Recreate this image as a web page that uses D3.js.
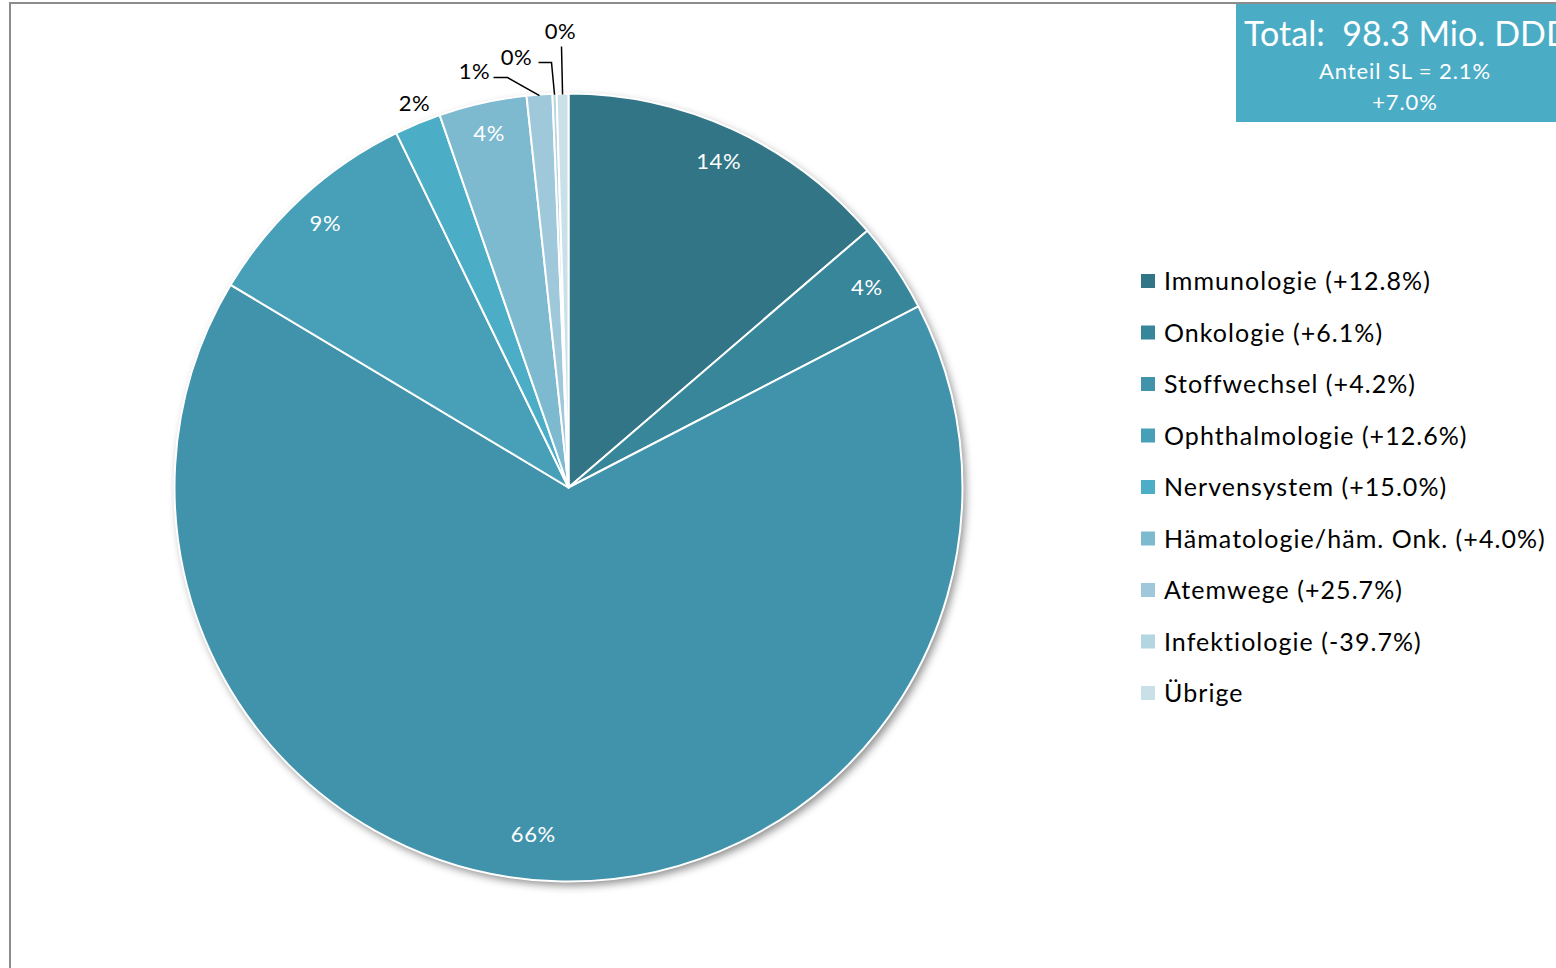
<!DOCTYPE html>
<html><head><meta charset="utf-8">
<script src="https://cdn.jsdelivr.net/npm/d3@7"></script>
<style>html,body{margin:0;padding:0;background:#fff;overflow:hidden}svg{display:block}</style>
</head><body>
<svg id="chart" width="1556" height="968"></svg>
<script>
// ---- data ----
const categories = ["Immunologie","Onkologie","Stoffwechsel","Ophthalmologie","Nervensystem","Hämatologie/häm. Onk.","Atemwege","Infektiologie","Übrige"];
const shares = [13.7, 3.7, 66.2, 9.2, 1.9, 3.6, 1.05, 0.17, 0.48];
const changes = ["+12.8%","+6.1%","+4.2%","+12.6%","+15.0%","+4.0%","+25.7%","-39.7%",null];
const colors = ["#327586","#37869a","#4193ab","#47a0b8","#4badc6","#7db9cf","#9fc9da","#b4d6e2","#cae0e9"];
const totalTitle = "Total:  98.3 Mio. DDD";
const totalLines = ["Anteil SL = 2.1%","+7.0%"];

// ---- layout ----
const W = 1556, H = 968;
const cx = 568.5, cy = 487.5, R = 394;
const font = "Lato, 'Open Sans', sans-serif";
// outside label placement (index -> text offset from centre and leader path)
const outsideLabels = {
  4: {tx: -154, ty: -385, leader: false},
  6: {tx: -94, ty: -417, leader: true, elbowDx: -61, elbowDy: -410, endDx: -75},
  7: {tx: -52, ty: -431, leader: true, elbowDx: -17, elbowDy: -425, endDx: -30},
  8: {tx: -8,  ty: -457, leader: true, elbowDx: -7, elbowDy: -441, endDx: -7}
};
// inside label placement tweaks (index -> radius, angle shift in degrees)
const insideTweaks = {2: {r: 348, dAngle: 4}, 5: {r: 364, dAngle: 0}};

const svg = d3.select("#chart");
const defs = svg.append("defs");
const f = defs.append("filter").attr("id","sh").attr("x","-10%").attr("y","-10%").attr("width","130%").attr("height","130%");
f.append("feDropShadow").attr("dx",3).attr("dy",4).attr("stdDeviation",4).attr("flood-color","#000").attr("flood-opacity",0.45);

// frame (only top & left visible)
svg.append("rect").attr("x",10).attr("y",3).attr("width",W+20).attr("height",H+20)
  .attr("fill","#fff").attr("stroke","#8c8c8c").attr("stroke-width",2);

const pie = d3.pie().sort(null).value(d => d)(shares);
const arc = d3.arc().innerRadius(0).outerRadius(R);
const g = svg.append("g").attr("transform",`translate(${cx},${cy})`);

g.append("circle").attr("r",R).attr("fill","#fff").attr("filter","url(#sh)");
g.selectAll("path.slice").data(pie).join("path").attr("class","slice")
  .attr("d",arc).attr("fill",(d,i)=>colors[i]).attr("stroke","#fff").attr("stroke-width",2).attr("stroke-linejoin","round");

// labels
pie.forEach((d,i)=>{
  const txt = Math.round(shares[i]) + "%";
  if (outsideLabels[i]) {
    const o = outsideLabels[i];
    g.append("text").attr("x",o.tx).attr("y",o.ty).attr("text-anchor","middle").attr("dominant-baseline","central")
      .attr("font-family",font).attr("font-size",22).attr("letter-spacing",0.6).attr("fill","#000").text(txt);
    if (o.leader) {
      const mid = (d.startAngle+d.endAngle)/2;
      const ex = Math.sin(mid)*(R-1), ey = -Math.cos(mid)*(R-1);
      g.append("path").attr("d", `M${o.endDx},${o.elbowDy}L${o.elbowDx},${o.elbowDy}L${ex},${ey}`)
        .attr("fill","none").attr("stroke","#000").attr("stroke-width",1.5);
    }
  } else {
    const t = insideTweaks[i] || {r: 360, dAngle: 0};
    const a = (d.startAngle+d.endAngle)/2 + t.dAngle*Math.PI/180;
    const x = Math.sin(a)*t.r, y = -Math.cos(a)*t.r;
    g.append("text").attr("x",x).attr("y",y).attr("text-anchor","middle").attr("dominant-baseline","central")
      .attr("font-family",font).attr("font-size",22).attr("letter-spacing",0.6).attr("fill","#fff").text(txt);
  }
});

// legend
const lg = svg.append("g").attr("transform","translate(1141,281)");
categories.forEach((c,i)=>{
  const row = lg.append("g").attr("transform",`translate(0,${i*51.5})`);
  row.append("rect").attr("x",0).attr("y",-7).attr("width",14).attr("height",14).attr("fill",colors[i]);
  row.append("text").attr("x",23).attr("y",-1).attr("dominant-baseline","central")
    .attr("font-family",font).attr("font-size",25).attr("letter-spacing",1.05).attr("fill","#000")
    .text(changes[i] ? `${c} (${changes[i]})` : c);
});

// total box
const tb = svg.append("g");
tb.append("rect").attr("x",1236).attr("y",4).attr("width",330).attr("height",118).attr("fill","#4bacc6");
tb.append("text").attr("x",1244).attr("y",32).attr("dominant-baseline","central")
  .attr("font-family",font).attr("font-size",34).attr("letter-spacing",0.05).attr("fill","#fff").style("white-space","pre").text(totalTitle);
totalLines.forEach((t,i)=>{
  tb.append("text").attr("x",1405).attr("y",70+i*31.5).attr("text-anchor","middle").attr("dominant-baseline","central")
    .attr("font-family",font).attr("font-size",22).attr("letter-spacing",0.9).attr("fill","#fff").text(t);
});
</script>
</body></html>
